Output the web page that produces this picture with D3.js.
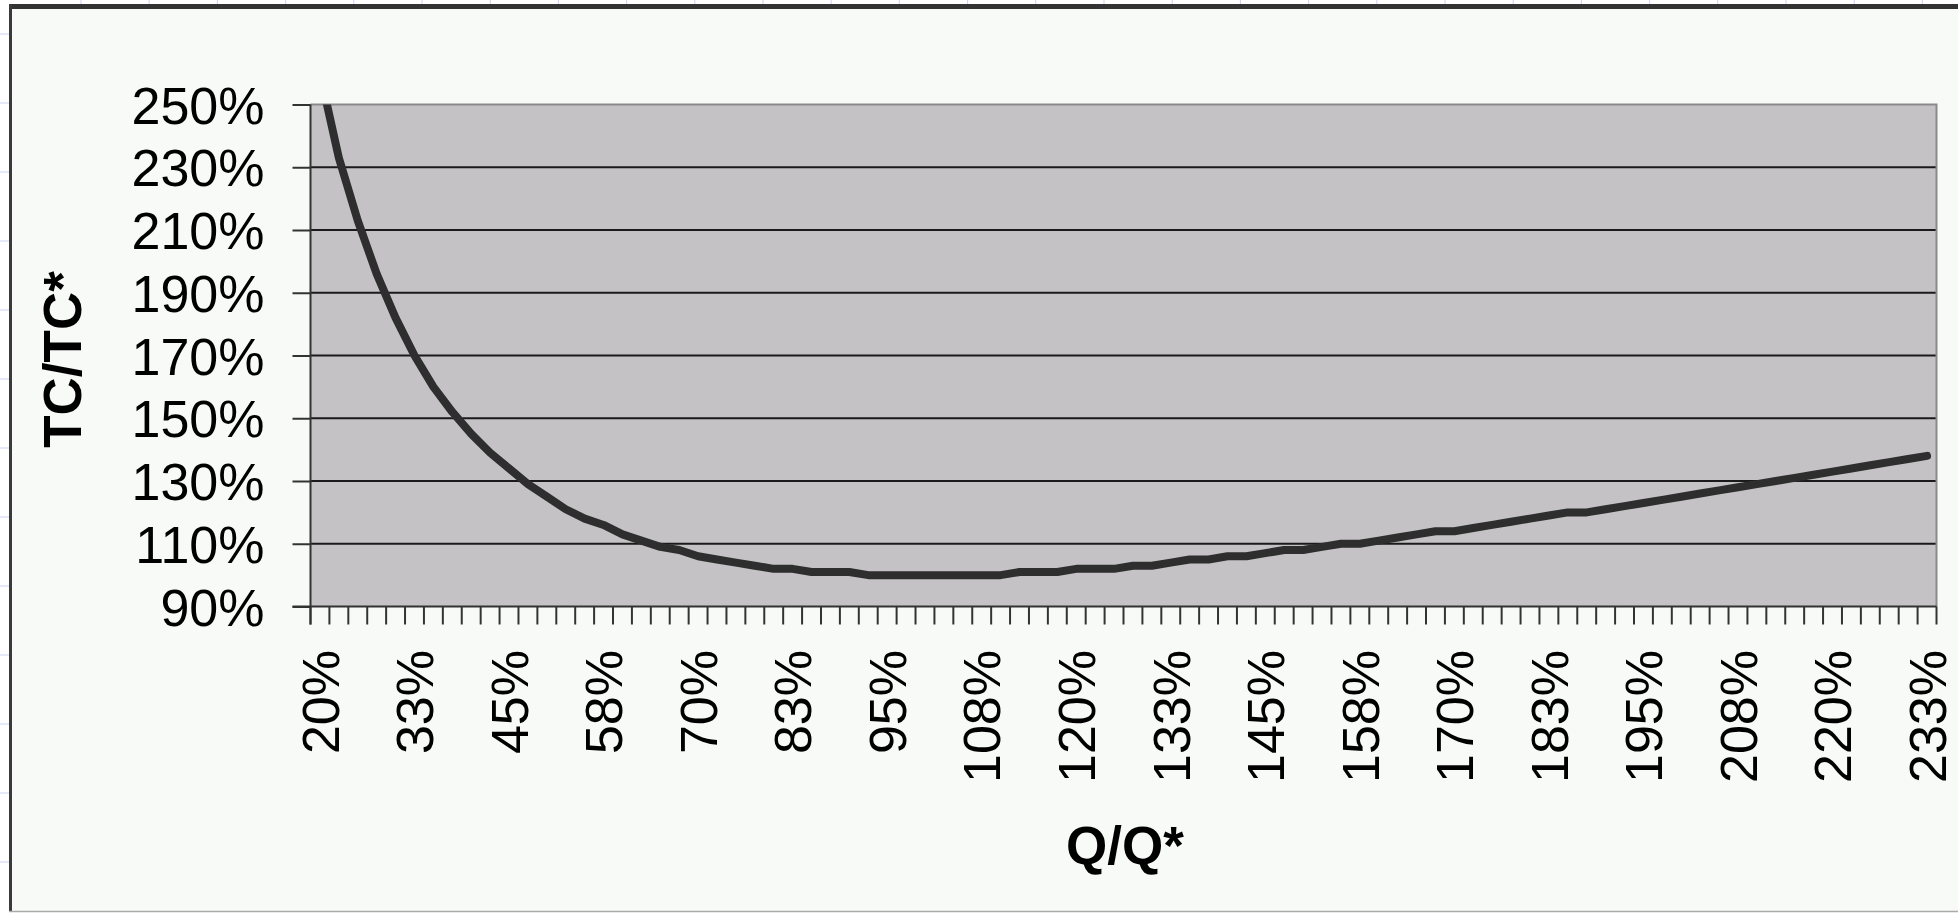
<!DOCTYPE html>
<html>
<head>
<meta charset="utf-8">
<script src="https://cdn.jsdelivr.net/npm/d3@7"></script>
<style>
  html, body { margin: 0; padding: 0; background: #ffffff; }
  svg { display: block; }
  text { font-family: "Liberation Sans", Arial, sans-serif; fill: #000; }
</style>
</head>
<body>
<svg id="chart" width="1958" height="913"></svg>
<script>
// Q/Q* categories (percent)
const categories = [
  20, 22.5, 25, 27.5, 30, 32.5, 35, 37.5, 40, 42.5,
  45, 47.5, 50, 52.5, 55, 57.5, 60, 62.5, 65, 67.5,
  70, 72.5, 75, 77.5, 80, 82.5, 85, 87.5, 90, 92.5,
  95, 97.5, 100, 102.5, 105, 107.5, 110, 112.5, 115, 117.5,
  120, 122.5, 125, 127.5, 130, 132.5, 135, 137.5, 140, 142.5,
  145, 147.5, 150, 152.5, 155, 157.5, 160, 162.5, 165, 167.5,
  170, 172.5, 175, 177.5, 180, 182.5, 185, 187.5, 190, 192.5,
  195, 197.5, 200, 202.5, 205, 207.5, 210, 212.5, 215, 217.5,
  220, 222.5, 225, 227.5, 230, 232.5
];
// TC/TC* values (percent)
const tcValues = [
  260, 233, 213, 196, 182, 170, 160, 152, 145, 139,
  134, 129, 125, 121, 118, 116, 113, 111, 109, 108,
  106, 105, 104, 103, 102, 102, 101, 101, 101, 100,
  100, 100, 100, 100, 100, 100, 100, 101, 101, 101,
  102, 102, 102, 103, 103, 104, 105, 105, 106, 106,
  107, 108, 108, 109, 110, 110, 111, 112, 113, 114,
  114, 115, 116, 117, 118, 119, 120, 120, 121, 122,
  123, 124, 125, 126, 127, 128, 129, 130, 131, 132,
  133, 134, 135, 136, 137, 138
];
// x tick labels shown (every 5th category)
const xTickCategories = [20, 32.5, 45, 57.5, 70, 82.5, 95, 107.5, 120, 132.5, 145, 157.5, 170, 182.5, 195, 207.5, 220, 232.5];
// y ticks
const yTicks = [90, 110, 130, 150, 170, 190, 210, 230, 250];
const yDomain = [90, 250];
const xTitle = "Q/Q*";
const yTitle = "TC/TC*";

const svg = d3.select("#chart");

// plot area geometry
const X0 = 310.5, X1 = 1936.5, Y0 = 104.5, Y1 = 606.5;

// spreadsheet grid peeking outside the chart frame
const bg = svg.append("g");
for (let k = 0; k < 30; k++) {
  const gx = 81 + k * 68.2;
  if (gx > 1958) break;
  bg.append("line").attr("x1", gx).attr("x2", gx).attr("y1", 0).attr("y2", 4)
    .attr("stroke", "#c9d2f2").attr("stroke-width", 1);
}
for (let k = 0; k < 14; k++) {
  const gy = 34 + k * 69;
  if (gy > 913) break;
  bg.append("line").attr("x1", 0).attr("x2", 9).attr("y1", gy).attr("y2", gy)
    .attr("stroke", "#c9d2f2").attr("stroke-width", 1);
}

// chart area background
svg.append("rect").attr("x", 11).attr("y", 7).attr("width", 1958).attr("height", 904)
  .attr("fill", "#f8faf7");

// frame
svg.append("line").attr("x1", 9).attr("x2", 1958).attr("y1", 6.5).attr("y2", 6.5)
  .attr("stroke", "#333").attr("stroke-width", 5);
svg.append("line").attr("x1", 10.5).attr("x2", 10.5).attr("y1", 4).attr("y2", 912)
  .attr("stroke", "#3a3a3a").attr("stroke-width", 3);
svg.append("line").attr("x1", 9).attr("x2", 1958).attr("y1", 911.5).attr("y2", 911.5)
  .attr("stroke", "#aaaaaa").attr("stroke-width", 1.5);

const x = d3.scaleBand().domain(categories).range([X0, X1]).paddingInner(0).paddingOuter(0);
const y = d3.scaleLinear().domain(yDomain).range([Y1, Y0]);
const cx = d => x(d) + x.bandwidth() / 2;

// plot area fill
svg.append("rect").attr("x", X0).attr("y", Y0).attr("width", X1 - X0).attr("height", Y1 - Y0)
  .attr("fill", "#c4c2c5");

// gridlines
svg.append("g").selectAll("line").data(yTicks.filter(t => t > yDomain[0] && t < yDomain[1]))
  .join("line")
  .attr("x1", X0).attr("x2", X1)
  .attr("y1", d => y(d)).attr("y2", d => y(d))
  .attr("stroke", "#1a1a1a").attr("stroke-width", 1.8);

// plot border top/right (gray)
svg.append("path")
  .attr("d", `M${X0},${Y0}H${X1}V${Y1}`)
  .attr("fill", "none").attr("stroke", "#8a8a8a").attr("stroke-width", 2);

// line (clipped)
svg.append("clipPath").attr("id", "plotClip")
  .append("rect").attr("x", X0).attr("y", Y0).attr("width", X1 - X0).attr("height", Y1 - Y0);

const lineGen = d3.line()
  .x((d, i) => cx(categories[i]))
  .y(d => y(d))
  .curve(d3.curveLinear);

svg.append("path")
  .datum(tcValues)
  .attr("clip-path", "url(#plotClip)")
  .attr("d", lineGen)
  .attr("fill", "none")
  .attr("stroke", "#2e2e2e")
  .attr("stroke-width", 8)
  .attr("stroke-linejoin", "round")
  .attr("stroke-linecap", "round");

// Y axis
const yAxis = d3.axisLeft(y).tickValues(yTicks).tickSize(18).tickPadding(28)
  .tickFormat(d => d + "%");
const gy = svg.append("g").attr("transform", `translate(${X0},0)`).call(yAxis);
gy.select(".domain").attr("stroke", "#333").attr("stroke-width", 2).attr("d", `M0,${Y0}V${Y1 + 18}`);
gy.selectAll(".tick line").attr("stroke", "#333").attr("stroke-width", 2);
gy.selectAll(".tick text")
  .attr("font-size", 52)
  .attr("font-family", "'Liberation Sans', Arial, sans-serif")
  .attr("fill", "#000")
  .attr("dy", "0.36em");

// X axis: ticks at category boundaries
const boundaries = categories.map(c => x(c)).concat([X1]);
const gx = svg.append("g");
gx.append("line").attr("x1", X0 - 18).attr("x2", X1).attr("y1", Y1).attr("y2", Y1)
  .attr("stroke", "#333").attr("stroke-width", 2);
gx.selectAll("line.tk").data(boundaries).join("line").attr("class", "tk")
  .attr("x1", d => d).attr("x2", d => d)
  .attr("y1", Y1).attr("y2", Y1 + 18)
  .attr("stroke", "#333").attr("stroke-width", 2);
gx.selectAll("text").data(xTickCategories).join("text")
  .attr("transform", d => `translate(${cx(d)},${650}) rotate(-90)`)
  .attr("text-anchor", "end")
  .attr("dy", "0.36em")
  .attr("font-size", 52)
  .text(d => Math.round(d) + "%");

// axis titles
svg.append("text")
  .attr("transform", `translate(62,${(Y0 + Y1) / 2 + 4}) rotate(-90)`)
  .attr("text-anchor", "middle")
  .attr("dy", "0.36em")
  .attr("font-size", 53)
  .attr("font-weight", "bold")
  .text(yTitle);

svg.append("text")
  .attr("x", 1125).attr("y", 864)
  .attr("text-anchor", "middle")
  .attr("font-size", 53)
  .attr("font-weight", "bold")
  .text(xTitle);
</script>
</body>
</html>
